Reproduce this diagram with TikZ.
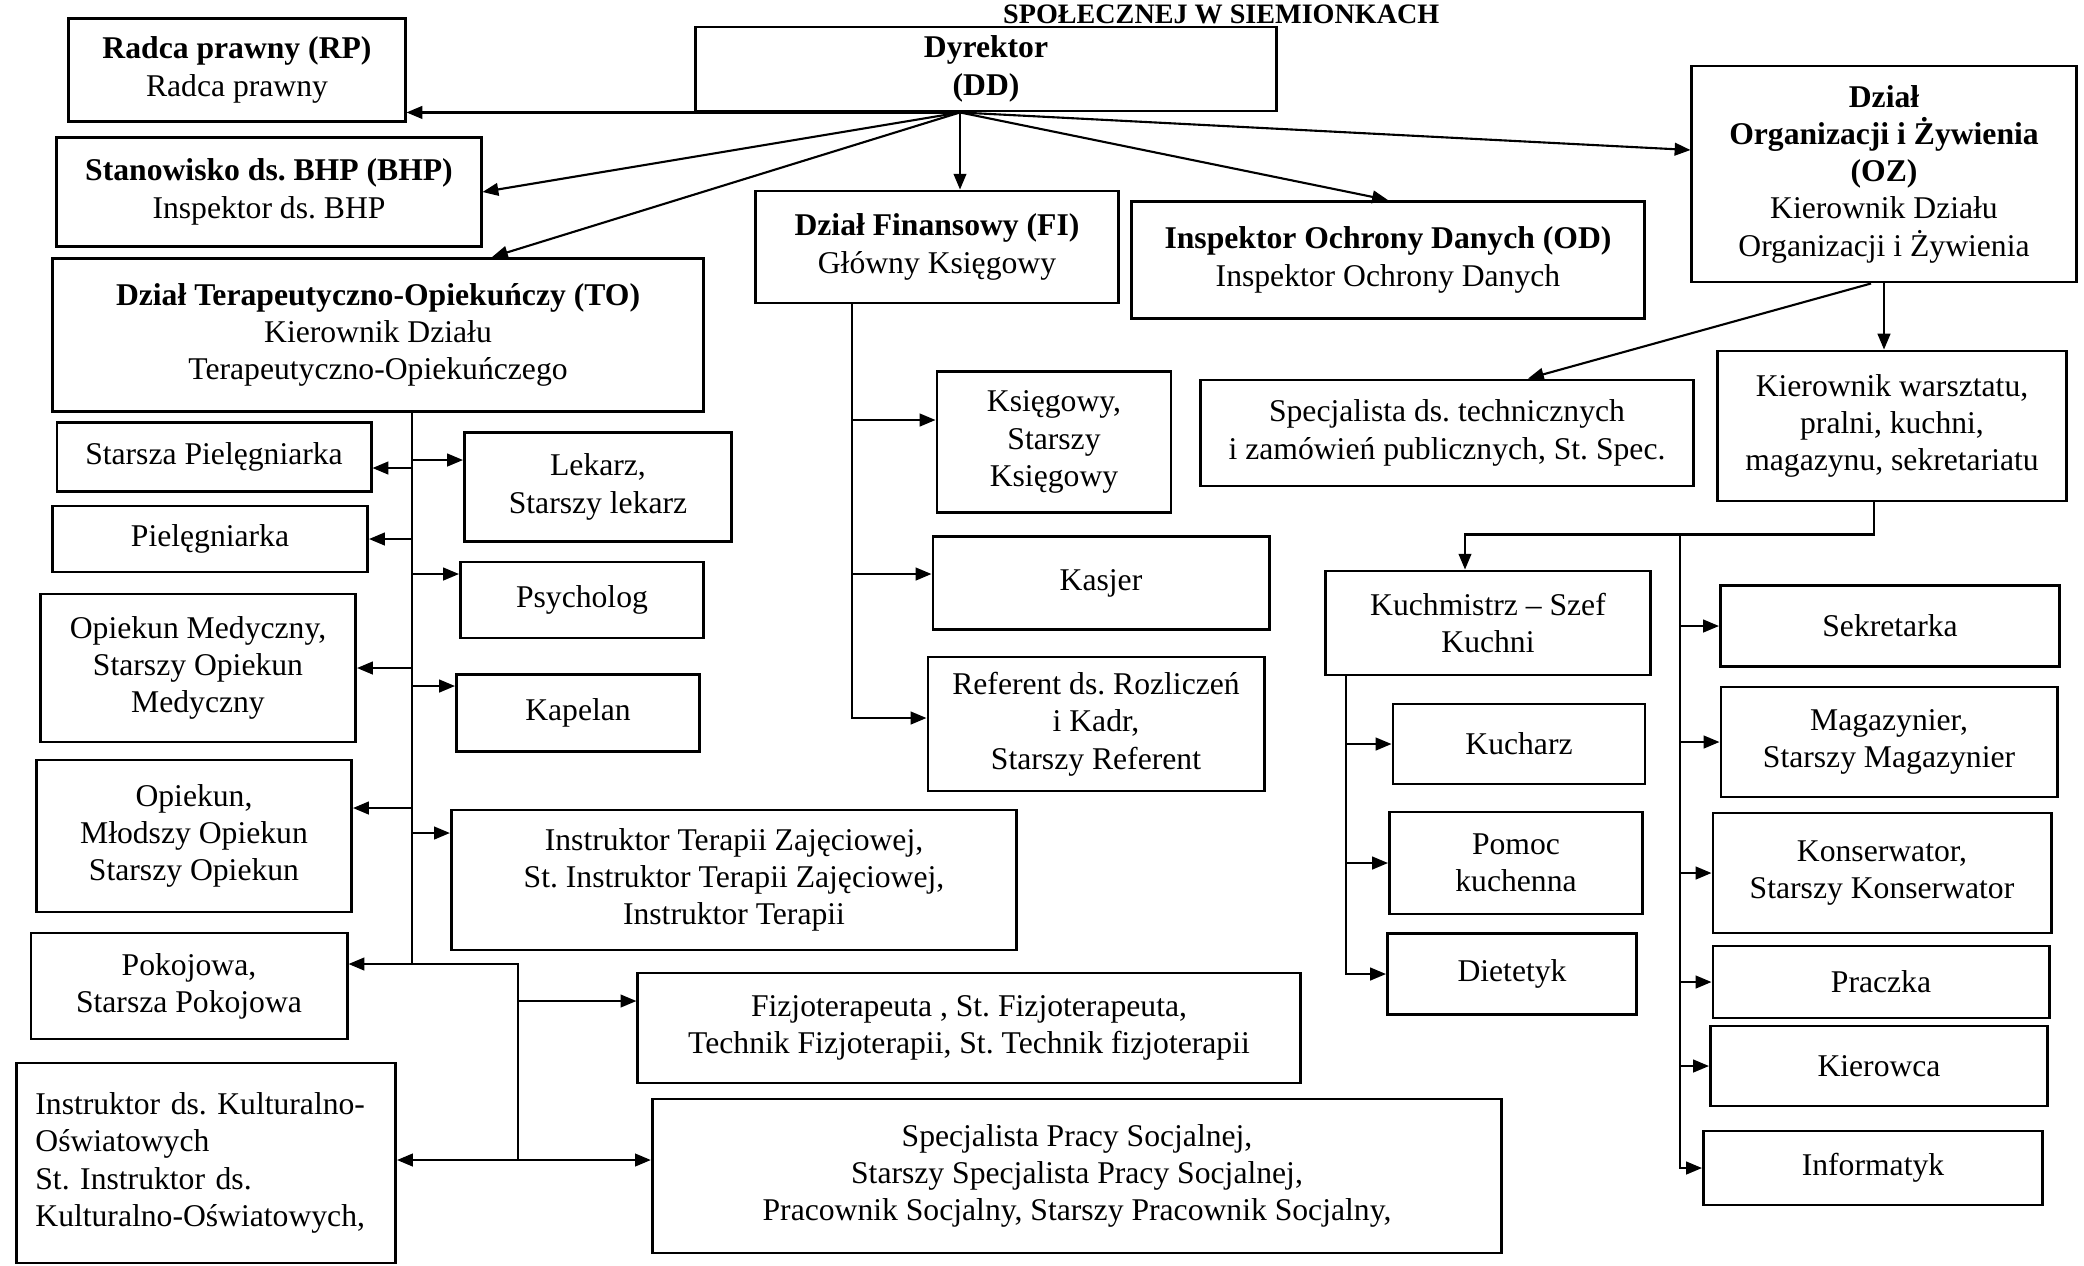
\documentclass[tikz,border=0pt]{standalone}
\usepackage{fontspec}
\setmainfont{Liberation Serif}
\usetikzlibrary{arrows.meta,calc}

\tikzset{
  box/.style={draw, line width=0.8pt, fill=white, align=center, inner sep=2pt,
    font=\fontsize{9}{10.6}\selectfont\frenchspacing},
  boxsize/.style 2 args={minimum width=#1cm, minimum height=#2cm},
  conn/.style={line width=0.6pt},
  arr/.style={conn, -{Triangle[length=4.5pt,width=3.6pt]}},
}

\begin{document}
\begin{tikzpicture}[x=0.01cm,y=-0.01cm]
\useasboundingbox (0,0) rectangle (2084,1265);
\fill[white] (0,0) rectangle (2084,1265);

\node[anchor=base east, inner sep=0pt, font=\bfseries\fontsize{8}{9}\selectfont] (Tytul) at (1440,23) {SPOŁECZNEJ W SIEMIONKACH};

\node[box, boxsize={5.80}{0.84}, inner ysep=0.5pt] (Dyrektor) at (986,69) {\textbf{Dyrektor}\\\textbf{(DD)}};
\node[box, boxsize={3.36}{1.03}] (RadcaPrawny) at (237,70) {\textbf{Radca prawny (RP)}\\Radca prawny};
\node[box, boxsize={4.24}{1.09}] (StanowiskoBHP) at (269,192) {\textbf{Stanowisko ds. BHP (BHP)}\\Inspektor ds. BHP};
\node[box, boxsize={6.51}{1.53}] (DzialTO) at (378,335) {\textbf{Dział Terapeutyczno-Opiekuńczy (TO)}\\Kierownik Działu\\Terapeutyczno-Opiekuńczego};
\node[box, boxsize={3.63}{1.12}] (DzialFI) at (937,247) {\textbf{Dział Finansowy (FI)}\\Główny Księgowy};
\node[box, boxsize={5.12}{1.17}] (InspektorOD) at (1388,260) {\textbf{Inspektor Ochrony Danych (OD)}\\Inspektor Ochrony Danych};
\node[box, boxsize={3.84}{2.16}] (DzialOZ) at (1884,174) {\textbf{Dział}\\\textbf{Organizacji i Żywienia}\\\textbf{(OZ)}\\Kierownik Działu\\Organizacji i Żywienia};

\node[box, boxsize={4.92}{1.06}] (SpecTech) at (1447,433) {Specjalista ds. technicznych\\i zamówień publicznych, St. Spec.};
\node[box, boxsize={3.49}{1.50}] (KierWarsztatu) at (1892,426) {Kierownik warsztatu,\\pralni, kuchni,\\magazynu, sekretariatu};
\node[box, boxsize={3.25}{1.04}] (Kuchmistrz) at (1488,623) {Kuchmistrz -- Szef\\Kuchni};
\node[box, boxsize={2.52}{0.80}] (Kucharz) at (1519,744) {Kucharz};
\node[box, boxsize={2.53}{1.02}] (PomocKuchenna) at (1516,863) {Pomoc\\kuchenna};
\node[box, boxsize={2.49}{0.81}] (Dietetyk) at (1512,974) {Dietetyk};
\node[box, boxsize={3.39}{0.81}] (Sekretarka) at (1890,626) {Sekretarka};
\node[box, boxsize={3.36}{1.10}] (Magazynier) at (1889,742) {Magazynier,\\Starszy Magazynier};
\node[box, boxsize={3.38}{1.20}] (Konserwator) at (1882,873) {Konserwator,\\Starszy Konserwator};
\node[box, boxsize={3.36}{0.72}] (Praczka) at (1881,982) {Praczka};
\node[box, boxsize={3.37}{0.80}] (Kierowca) at (1879,1066) {Kierowca};
\node[box, boxsize={3.39}{0.74}] (Informatyk) at (1873,1168) {Informatyk};

\node[box, boxsize={2.34}{1.41}] (Ksiegowy) at (1054,442) {Księgowy,\\Starszy\\Księgowy};
\node[box, boxsize={3.36}{0.93}] (Kasjer) at (1101,583) {Kasjer};
\node[box, boxsize={3.36}{1.34}] (Referent) at (1096,724) {Referent ds. Rozliczeń\\i Kadr,\\Starszy Referent};

\node[box, boxsize={3.14}{0.69}] (StPielegniarka) at (214,457) {Starsza Pielęgniarka};
\node[box, boxsize={3.15}{0.66}] (Pielegniarka) at (210,539) {Pielęgniarka};
\node[box, boxsize={3.15}{1.48}] (OpiekunMed) at (198,668) {Opiekun Medyczny,\\Starszy Opiekun\\Medyczny};
\node[box, boxsize={3.15}{1.52}] (Opiekun) at (194,836) {Opiekun,\\Młodszy Opiekun\\Starszy Opiekun};
\node[box, boxsize={3.16}{1.06}] (Pokojowa) at (189,986) {Pokojowa,\\Starsza Pokojowa};
\node[box, boxsize={3.79}{2.00}, align=left, inner xsep=0.19cm, text width=3.41cm] (InstrKult) at (206,1163) {Instruktor ds. Kulturalno-\\Oświatowych\\St. Instruktor ds.\\Kulturalno-Oświatowych,};
\node[box, boxsize={2.67}{1.09}] (Lekarz) at (598,487) {Lekarz,\\Starszy lekarz};
\node[box, boxsize={2.43}{0.76}] (Psycholog) at (582,600) {Psycholog};
\node[box, boxsize={2.43}{0.77}] (Kapelan) at (578,713) {Kapelan};
\node[box, boxsize={5.65}{1.40}] (InstrTerapii) at (734,880) {Instruktor Terapii Zajęciowej,\\St. Instruktor Terapii Zajęciowej,\\Instruktor Terapii};
\node[box, boxsize={6.62}{1.10}] (Fizjoterapeuta) at (969,1028) {Fizjoterapeuta , St. Fizjoterapeuta,\\Technik Fizjoterapii, St. Technik fizjoterapii};
\node[box, boxsize={8.49}{1.54}] (PracaSocjalna) at (1077,1176) {Specjalista Pracy Socjalnej,\\Starszy Specjalista Pracy Socjalnej,\\Pracownik Socjalny, Starszy Pracownik Socjalny,};

\coordinate (ddhub) at ($(Dyrektor.south)+(-26,0)$);
\draw[arr] (ddhub) -- (RadcaPrawny.east |- ddhub);
\draw[arr] (ddhub) -- (StanowiskoBHP.east);
\draw[arr] (ddhub) -- ($(DzialTO.north)+(114,0)$);
\draw[arr] (ddhub) -- (ddhub |- DzialFI.north);
\draw[arr] (ddhub) -- (InspektorOD.north);
\draw[arr] (ddhub) -- ($(DzialOZ.west)+(0,-24)$);

\coordinate (fitrunk) at (852,0);
\draw[arr] (fitrunk |- DzialFI.south) |- ($(Referent.west)+(0,-6)$);
\draw[arr] (fitrunk |- Ksiegowy.west) ++(0,-22) -- ($(Ksiegowy.west)+(0,-22)$);
\draw[arr] (fitrunk |- Kasjer.west) ++(0,-9) -- ($(Kasjer.west)+(0,-9)$);

\coordinate (totrunk) at (412,0);
\coordinate (tobend) at (412,964);
\coordinate (tobend2) at (518,964);
\coordinate (tobottom) at (518,1160);
\draw[conn] (totrunk |- DzialTO.south) -- (tobend) -- (tobend2) -- (tobottom);
\draw[arr] (totrunk |- StPielegniarka.east) ++(0,11) -- ($(StPielegniarka.east)+(0,11)$);
\draw[arr] (totrunk |- Pielegniarka.east) -- (Pielegniarka.east);
\draw[arr] (totrunk |- OpiekunMed.east) -- (OpiekunMed.east);
\draw[arr] (totrunk |- Opiekun.east) ++(0,-28) -- ($(Opiekun.east)+(0,-28)$);
\draw[arr] (tobend) -- (tobend -| Pokojowa.east);
\draw[arr] (totrunk |- Lekarz.west) ++(0,-27) -- ($(Lekarz.west)+(0,-27)$);
\draw[arr] (totrunk |- Psycholog.west) ++(0,-26) -- ($(Psycholog.west)+(0,-26)$);
\draw[arr] (totrunk |- Kapelan.west) ++(0,-27) -- ($(Kapelan.west)+(0,-27)$);
\draw[arr] (totrunk |- InstrTerapii.west) ++(0,-47) -- ($(InstrTerapii.west)+(0,-47)$);
\draw[arr] (tobend2 |- Fizjoterapeuta.west) ++(0,-27) -- ($(Fizjoterapeuta.west)+(0,-27)$);
\draw[arr] (tobottom) -- (tobottom -| InstrKult.east);
\draw[arr] (tobottom) -- (tobottom -| PracaSocjalna.west);

\draw[arr] ($(DzialOZ.south)+(-13,0)$) -- ($(SpecTech.north)+(81,0)$);
\draw[arr] (DzialOZ.south) -- (DzialOZ.south |- KierWarsztatu.north);
\draw[arr] ($(KierWarsztatu.south)+(-18,0)$) -- ++(0,32) -| ($(Kuchmistrz.north)+(-23,0)$);

\coordinate (oztrunk) at (1680,533);
\draw[arr] (oztrunk) |- (Informatyk.west);
\draw[arr] (oztrunk |- Sekretarka.west) -- (Sekretarka.west);
\draw[arr] (oztrunk |- Magazynier.west) -- (Magazynier.west);
\draw[arr] (oztrunk |- Konserwator.west) -- (Konserwator.west);
\draw[arr] (oztrunk |- Praczka.west) -- (Praczka.west);
\draw[arr] (oztrunk |- Kierowca.west) -- (Kierowca.west);

\coordinate (kuchtrunk) at (1346,0);
\draw[arr] (kuchtrunk |- Kuchmistrz.south) |- (Dietetyk.west);
\draw[arr] (kuchtrunk |- Kucharz.west) -- (Kucharz.west);
\draw[arr] (kuchtrunk |- PomocKuchenna.west) -- (PomocKuchenna.west);
\end{tikzpicture}
\end{document}
